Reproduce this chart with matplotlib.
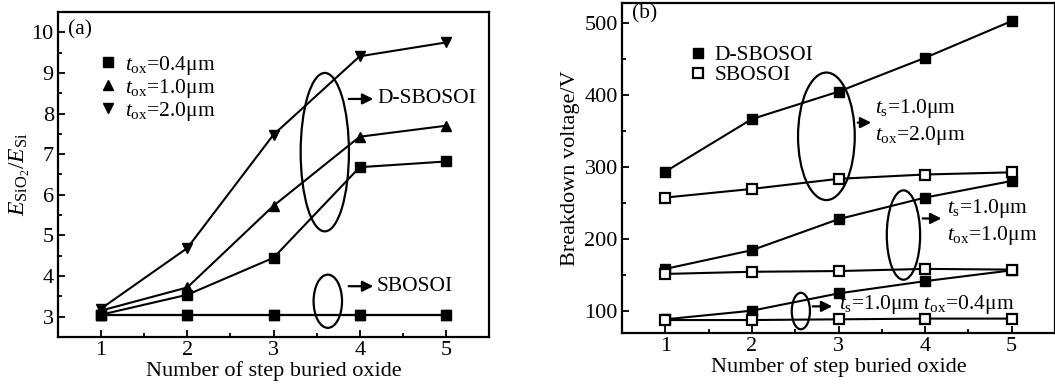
import matplotlib
matplotlib.use("Agg")
import matplotlib.pyplot as plt
from matplotlib.patches import Ellipse
from matplotlib.lines import Line2D
from matplotlib.ticker import MultipleLocator

plt.rcParams['font.family'] = ['Liberation Serif', 'DejaVu Serif']
plt.rcParams['mathtext.fontset'] = 'custom'
plt.rcParams['mathtext.rm'] = 'Liberation Serif'
plt.rcParams['mathtext.it'] = 'Liberation Serif:italic'
plt.rcParams['mathtext.bf'] = 'Liberation Serif:bold'

# ---- data ----
steps = [1, 2, 3, 4, 5]

# panel (a): E_SiO2 / E_Si
a_dsbosoi_04 = [3.05, 3.54, 4.45, 6.68, 6.82]
a_dsbosoi_10 = [3.15, 3.72, 5.73, 7.43, 7.70]
a_dsbosoi_20 = [3.20, 4.69, 7.48, 9.41, 9.75]
a_sbosoi_04 = [3.05, 3.05, 3.05, 3.05, 3.05]
a_sbosoi_10 = [3.05, 3.05, 3.05, 3.05, 3.05]
a_sbosoi_20 = [3.05, 3.05, 3.05, 3.05, 3.05]
a_labels = [r"$t_{\mathrm{ox}}$=0.4μm", r"$t_{\mathrm{ox}}$=1.0μm", r"$t_{\mathrm{ox}}$=2.0μm"]

# panel (b): breakdown voltage (V)
b_dsbosoi_20 = [294, 367, 405, 452, 503]
b_sbosoi_20 = [258, 270, 284, 290, 293]
b_dsbosoi_10 = [159, 185, 228, 258, 281]
b_sbosoi_10 = [152, 155, 156, 159, 158]
b_dsbosoi_04 = [89, 101, 125, 142, 157]
b_sbosoi_04 = [88, 88, 89, 90, 90]
b_labels = ["D-SBOSOI", "SBOSOI"]

fig = plt.figure(figsize=(10.55, 3.87), dpi=100)
axa = fig.add_axes([0.0550, 0.1292, 0.4085, 0.8398])
axb = fig.add_axes([0.5896, 0.1395, 0.4104, 0.8527])

lw = 1.5
ms = 7.5
fs_tick = 16
fs_lab = 16
fs_txt = 15.5

def style(ax):
    for s in ax.spines.values():
        s.set_linewidth(1.6)
    ax.tick_params(which='both', direction='in', top=False, right=False,
                   labelsize=fs_tick, width=1.3, pad=3)
    ax.tick_params(which='major', length=5)
    ax.tick_params(which='minor', length=3)
    ax.xaxis.set_major_locator(MultipleLocator(1))
    ax.xaxis.set_minor_locator(MultipleLocator(0.5))

arrow_kw = dict(arrowstyle='-|>', color='black', lw=1.6, mutation_scale=16)

# ---- panel (a) ----
markers_a = ['s', '^', 'v']
for vals, m in zip([a_dsbosoi_04, a_dsbosoi_10, a_dsbosoi_20], markers_a):
    axa.plot(steps, vals, color='black', lw=lw, marker=m, ms=ms)
for vals, m in zip([a_sbosoi_04, a_sbosoi_10, a_sbosoi_20], markers_a):
    axa.plot(steps, vals, color='black', lw=lw, marker=m, ms=ms)

axa.set_xlim(0.5, 5.5)
axa.set_ylim(2.5, 10.5)
axa.yaxis.set_major_locator(MultipleLocator(1))
axa.yaxis.set_minor_locator(MultipleLocator(0.5))
style(axa)
axa.set_xlabel("Number of step buried oxide", fontsize=fs_lab, labelpad=1)
axa.set_ylabel(r"$E_{\mathrm{SiO}_2}/E_{\mathrm{Si}}$", fontsize=17, labelpad=0)

ha = [Line2D([], [], color='black', marker=m, ls='none', ms=ms) for m in markers_a]
axa.legend(ha, a_labels, loc='upper left', bbox_to_anchor=(0.07, 0.905),
           frameon=False, fontsize=fs_txt, handlelength=0.8, handletextpad=0.4,
           labelspacing=0.0, borderpad=0)
axa.text(0.022, 0.975, "(a)", transform=axa.transAxes, fontsize=fs_txt, va='top')

axa.add_patch(Ellipse((3.595, 7.05), 0.56, 3.9, fill=False, lw=1.6, ec='black'))
axa.annotate("", xy=(4.19, 8.36), xytext=(3.84, 8.36), arrowprops=arrow_kw)
axa.text(4.2, 8.36, "D-SBOSOI", fontsize=fs_txt, va='center')
axa.add_patch(Ellipse((3.63, 3.38), 0.33, 1.31, fill=False, lw=1.6, ec='black'))
axa.annotate("", xy=(4.19, 3.75), xytext=(3.84, 3.75), arrowprops=arrow_kw)
axa.text(4.2, 3.75, "SBOSOI", fontsize=fs_txt, va='center')

# ---- panel (b) ----
for vals in [b_dsbosoi_20, b_dsbosoi_10, b_dsbosoi_04]:
    axb.plot(steps, vals, color='black', lw=lw, marker='s', ms=ms,
             mfc='black', mec='black')
for vals in [b_sbosoi_20, b_sbosoi_10, b_sbosoi_04]:
    axb.plot(steps, vals, color='black', lw=lw, marker='s', ms=ms,
             mfc='white', mec='black', mew=1.6)

axb.set_xlim(0.5, 5.5)
axb.set_ylim(70, 528)
axb.yaxis.set_major_locator(MultipleLocator(100))
axb.yaxis.set_minor_locator(MultipleLocator(50))
style(axb)
axb.set_xlabel("Number of step buried oxide", fontsize=fs_lab, labelpad=1)
axb.set_ylabel("Breakdown voltage/V", fontsize=fs_lab, labelpad=3)

hb = [Line2D([], [], color='black', marker='s', ls='none', ms=ms, mfc='black'),
      Line2D([], [], color='black', marker='s', ls='none', ms=ms, mfc='white', mew=1.6)]
axb.legend(hb, b_labels, loc='upper left', bbox_to_anchor=(0.13, 0.905),
           frameon=False, fontsize=fs_txt, handlelength=0.8, handletextpad=0.4,
           labelspacing=0.0, borderpad=0)
axb.text(0.022, 0.995, "(b)", transform=axb.transAxes, fontsize=fs_txt, va='top')

axb.add_patch(Ellipse((2.86, 343), 0.655, 177, fill=False, lw=1.6, ec='black'))
axb.annotate("", xy=(3.41, 362), xytext=(3.19, 362), arrowprops=arrow_kw)
axb.text(3.42, 381, r"$t_{\mathrm{s}}$=1.0μm", fontsize=fs_txt, va='center')
axb.text(3.42, 344, r"$t_{\mathrm{ox}}$=2.0μm", fontsize=fs_txt, va='center')

axb.add_patch(Ellipse((3.75, 206), 0.385, 124, fill=False, lw=1.6, ec='black'))
axb.annotate("", xy=(4.22, 229), xytext=(3.94, 229), arrowprops=arrow_kw)
axb.text(4.25, 243, r"$t_{\mathrm{s}}$=1.0μm", fontsize=fs_txt, va='center')
axb.text(4.25, 206, r"$t_{\mathrm{ox}}$=1.0μm", fontsize=fs_txt, va='center')

axb.add_patch(Ellipse((2.565, 100.5), 0.21, 50.6, fill=False, lw=1.6, ec='black'))
axb.annotate("", xy=(2.96, 107), xytext=(2.67, 107), arrowprops=arrow_kw)
axb.text(3.0, 110, r"$t_{\mathrm{s}}$=1.0μm $t_{\mathrm{ox}}$=0.4μm", fontsize=fs_txt, va='center')

fig.savefig("out.png", dpi=100)
